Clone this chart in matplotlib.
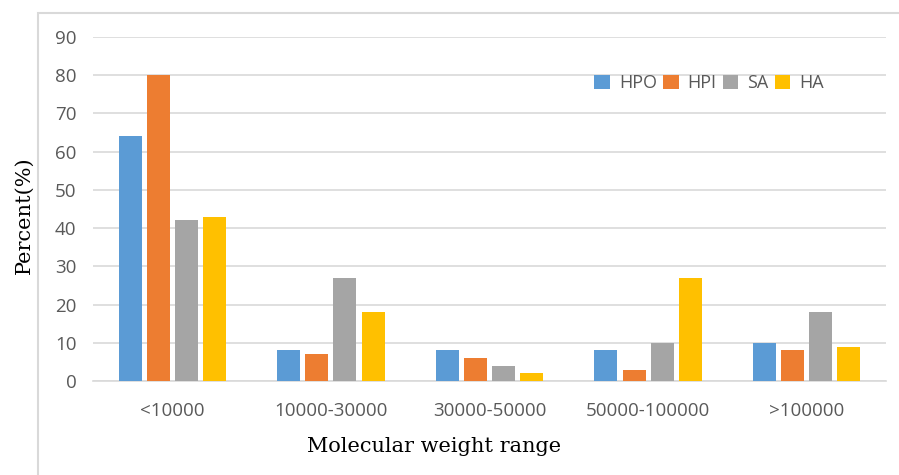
import numpy as np
import matplotlib.pyplot as plt
from matplotlib.patches import Rectangle

categories = ['<10000', '10000-30000', '30000-50000', '50000-100000', '>100000']
series = ['HPO', 'HPI', 'SA', 'HA']
hpo = [64, 8, 8, 8, 10]
hpi = [80, 7, 6, 3, 8]
sa = [42, 27, 4, 10, 18]
ha = [43, 18, 2, 27, 9]
colors = ['#5b9bd5', '#ed7d31', '#a5a5a5', '#ffc000']

fig = plt.figure(figsize=(8.99, 4.75), dpi=100)
ax = fig.add_axes([93/899, 1-381/475, (886-93)/899, (381-37)/475])

# outer chart frame
fig.patches.append(Rectangle((38/899, -0.05), 1.0, 1-13/475+0.05, transform=fig.transFigure,
                             fill=False, edgecolor='#d9d9d9', lw=1.5))

x = np.arange(len(categories))
w = 0.145
step = 0.177
for i, (name, vals) in enumerate(zip(series, [hpo, hpi, sa, ha])):
    ax.bar(x + (i - 1.5) * step, vals, w, color=colors[i], label=name, zorder=3)

ax.set_xlim(-0.5, len(categories) - 0.5)
ax.set_ylim(0, 90)
ax.set_yticks(range(0, 91, 10))
ax.set_xticks(x)
ax.set_xticklabels(categories)
ax.grid(axis='y', color='#d9d9d9', lw=1.2, zorder=0)
for s in ['top', 'right', 'left']:
    ax.spines[s].set_visible(False)
ax.spines['bottom'].set_color('#d9d9d9')
ax.spines['bottom'].set_linewidth(1.2)
ax.tick_params(length=0, labelsize=13.5, labelcolor='#595959')
for lab in ax.get_xticklabels() + ax.get_yticklabels():
    lab.set_family('Open Sans')
ax.tick_params(axis='y', pad=12)
ax.tick_params(axis='x', pad=15)

fig.text(24/899, 1-215/475, 'Percent(%)', family='DejaVu Serif', fontsize=15,
         rotation=90, ha='center', va='center')
fig.text(434/899, 1-446/475, 'Molecular weight range', family='DejaVu Serif', fontsize=15,
         ha='center', va='center')

ax.legend(loc='center', bbox_to_anchor=(0.777, 0.865), ncol=4, frameon=False,
          prop={'family': 'Open Sans', 'size': 13}, handlelength=0.85, handleheight=0.85,
          handletextpad=0.5, columnspacing=0.35, labelcolor='#595959')

fig.savefig('out.png', dpi=100)
